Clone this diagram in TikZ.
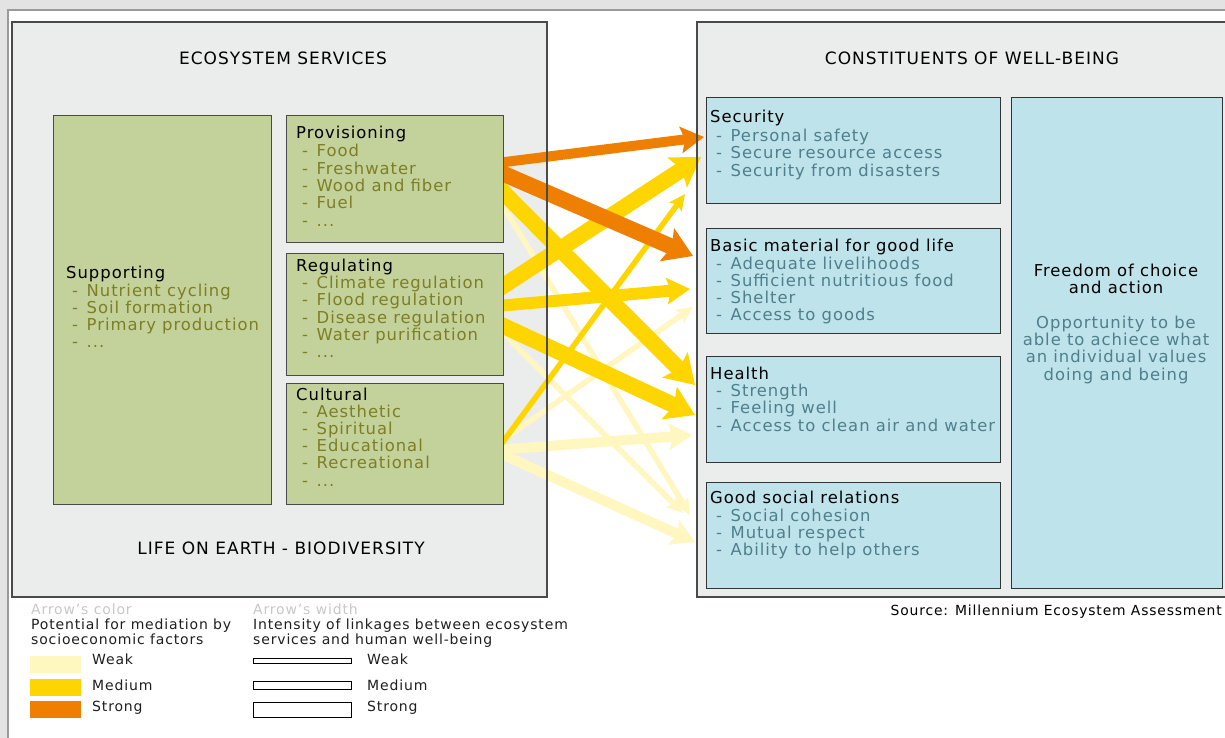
\documentclass[tikz,border=0pt]{standalone}
\usepackage{fontspec}
\setmainfont{DejaVu Sans}[LetterSpace=6]
\usetikzlibrary{arrows.meta}
\definecolor{framegray}{HTML}{E3E3E3}
\definecolor{frameline}{HTML}{9A9A9A}
\definecolor{boxbg}{HTML}{EBEDEC}
\definecolor{boxline}{HTML}{4A4A4A}
\definecolor{gfill}{HTML}{C3D19A}
\definecolor{gtext}{HTML}{7E7E24}
\definecolor{bfill}{HTML}{BFE3EA}
\definecolor{btext}{HTML}{4F7F8D}
\definecolor{weakc}{HTML}{FFF6C0}
\definecolor{medc}{HTML}{FFD500}
\definecolor{strongc}{HTML}{EF7F00}
\definecolor{leggray}{HTML}{C8C8C8}
\newcommand\mydots{...}
\newcommand\itemlines[5]{\foreach \t [count=\i] in {#5}{\node[#4] (#1\i) at (#2,{#3+17.25*(\i-1)}) {\hbox to 14.5pt{-\hfil}\t};}}
\begin{document}
\begin{tikzpicture}[x=1pt,y=-1pt,
  hdr/.style={font=\fontsize{16.4}{18}\selectfont, text=black, inner sep=0pt, anchor=base west},
  gitem/.style={hdr, text=gtext},
  bitem/.style={hdr, text=btext},
  ftxt/.style={font=\fontsize{16.4}{18}\selectfont, text=black, inner sep=0pt, anchor=base},
  ctitle/.style={font=\fontsize{17}{19}\selectfont, text=black, inner sep=0pt, anchor=base},
  legtxt/.style={font=\fontsize{14}{16}\selectfont, text=black!88, inner sep=0pt, anchor=base west},
  gbox/.style={draw=boxline, fill=gfill, line width=1.2pt, inner sep=0pt, anchor=north west},
  bbox/.style={draw=black!80, fill=bfill, line width=1.2pt, inner sep=0pt, anchor=north west},
  thinA/.style={line width=5.5pt, -{Stealth[length=16pt,width=15pt,inset=3pt]}},
  medA/.style={line width=10pt, -{Stealth[length=23pt,width=26pt,inset=4pt]}},
  thickA/.style={line width=16pt, -{Stealth[length=28pt,width=35pt,inset=5pt]}},
  swatch/.style={minimum width=51pt, minimum height=17pt, inner sep=0pt, anchor=north west},
  wrect/.style={draw=black, fill=white, line width=0.9pt, minimum width=98pt, inner sep=0pt, anchor=north west}
]
\useasboundingbox (0,0) rectangle (1225,738);
% frame
\fill[white] (0,0) rectangle (1225,738);
\fill[framegray] (0,0) rectangle (1225,9);
\fill[framegray] (0,0) rectangle (7,738);
\draw[frameline, line width=1.6pt] (1225,9.8) -- (8,9.8) -- (8,738);
% outer boxes (fill)
\fill[boxbg] (12,22) rectangle (547,597);
\fill[boxbg] (697,22) rectangle (1232,597);
% arrow end points
\coordinate (a1s) at (497,163); \coordinate (a1e) at (704,137);
\coordinate (a2s) at (497,171); \coordinate (a2e) at (693,256);
\coordinate (a3s) at (497,186); \coordinate (a3e) at (695,385);
\coordinate (a4s) at (497,196); \coordinate (a4e) at (690,515);
\coordinate (a5s) at (497,290); \coordinate (a5e) at (701,157);
\coordinate (a6s) at (497,306); \coordinate (a6e) at (690,289);
\coordinate (a7s) at (497,323); \coordinate (a7e) at (695,415);
\coordinate (a8s) at (497,327); \coordinate (a8e) at (683,513);
\coordinate (a9s) at (497,450); \coordinate (a9e) at (685,194);
\coordinate (a10s) at (497,444); \coordinate (a10e) at (693,307);
\coordinate (a11s) at (497,450); \coordinate (a11e) at (692,435);
\coordinate (a12s) at (497,452); \coordinate (a12e) at (695,542);
% weak arrows
\draw[thinA, weakc] (a4s) -- (a4e);
\draw[thinA, weakc] (a8s) -- (a8e);
\draw[medA, weakc] (a12s) -- (a12e);
\draw[medA, weakc] (a11s) -- (a11e);
\draw[thinA, weakc] (a10s) -- (a10e);
% medium arrows
\draw[thinA, medc] (a9s) -- (a9e);
\draw[thickA, medc] (a7s) -- (a7e);
\draw[medA, line width=12pt, medc] (a6s) -- (a6e);
\draw[thickA, medc] (a5s) -- (a5e);
\draw[thickA, medc] (a3s) -- (a3e);
% strong arrows
\draw[thickA, strongc] (a2s) -- (a2e);
\draw[medA, strongc] (a1s) -- (a1e);
% outer box borders
\draw[boxline, line width=1.2pt] (12,22) rectangle (547,597);
\draw[boxline, line width=1.2pt] (697,22) rectangle (1232,597);
% green boxes
\node[gbox, minimum width=218pt, minimum height=389pt] (sup) at (53,115) {};
\node[gbox, minimum width=217pt, minimum height=127pt] (prov) at (286,115) {};
\node[gbox, minimum width=217pt, minimum height=122pt] (reg) at (286,253) {};
\node[gbox, minimum width=217pt, minimum height=121pt] (cult) at (286,383) {};
% blue boxes
\node[bbox, minimum width=294pt, minimum height=106pt] (sec) at (706,97) {};
\node[bbox, minimum width=294pt, minimum height=105pt] (basic) at (706,228) {};
\node[bbox, minimum width=294pt, minimum height=106pt] (health) at (706,356) {};
\node[bbox, minimum width=294pt, minimum height=106pt] (good) at (706,482) {};
\node[bbox, minimum width=211pt, minimum height=491pt] (free) at (1011,97) {};
% titles
\node[ctitle] (t1) at (283,65) {ECOSYSTEM SERVICES};
\node[ctitle] (t2) at (972,65) {CONSTITUENTS OF WELL-BEING};
\node[ctitle] (t3) at (281,554) {LIFE ON EARTH - BIODIVERSITY};
% green box texts
\node[hdr] (hsup) at (66,278) {Supporting};
\itemlines{isup}{72}{296}{gitem}{Nutrient cycling,Soil formation,Primary production,\mydots}
\node[hdr] (hprov) at (296,139) {Provisioning};
\itemlines{iprov}{302}{157}{gitem}{Food,Freshwater,Wood and fiber,Fuel,\mydots}
\node[hdr] (hreg) at (296,271) {Regulating};
\itemlines{ireg}{302}{288.5}{gitem}{Climate regulation,Flood regulation,Disease regulation,Water purification,\mydots}
\node[hdr] (hcult) at (296,400) {Cultural};
\itemlines{icult}{302}{417}{gitem}{Aesthetic,Spiritual,Educational,Recreational,\mydots}
% blue box texts
\node[hdr] (hsec) at (710,123) {Security};
\itemlines{isec}{716}{141.5}{bitem}{Personal safety,Secure resource access,Security from disasters}
\node[hdr] (hbasic) at (710,251) {Basic material for good life};
\itemlines{ibasic}{716}{269}{bitem}{Adequate livelihoods,Sufficient nutritious food,Shelter,Access to goods}
\node[hdr] (hhealth) at (710,379) {Health};
\itemlines{ihealth}{716}{396.5}{bitem}{Strength,Feeling well,Access to clean air and water}
\node[hdr] (hgood) at (710,503) {Good social relations};
\itemlines{igood}{716}{521}{bitem}{Social cohesion,Mutual respect,Ability to help others}
% freedom
\node[ftxt] (f1) at (1116,276) {Freedom of choice};
\node[ftxt] (f2) at (1116,293.3) {and action};
\node[ftxt, text=btext] (f3) at (1116,328) {Opportunity to be};
\node[ftxt, text=btext] (f4) at (1116,345.3) {able to achiece what};
\node[ftxt, text=btext] (f5) at (1116,362.6) {an individual values};
\node[ftxt, text=btext] (f6) at (1116,380) {doing and being};
% source
\node[font=\fontsize{13.9}{16}\selectfont, inner sep=0pt, anchor=base east] (src) at (1222,615) {Source: Millennium Ecosystem Assessment};
% legend: colour
\node[legtxt, text=leggray] (lc0) at (31,614) {Arrow’s color};
\node[legtxt] (lc1) at (31,629) {Potential for mediation by};
\node[legtxt] (lc2) at (31,644) {socioeconomic factors};
\node[swatch, fill=weakc] (sw1) at (30,656) {};
\node[swatch, fill=medc] (sw2) at (30,679) {};
\node[swatch, fill=strongc] (sw3) at (30,701) {};
\node[legtxt] (lcw) at (92,664) {Weak};
\node[legtxt] (lcm) at (92,690) {Medium};
\node[legtxt] (lcs) at (92,711) {Strong};
% legend: width
\node[legtxt, text=leggray] (lw0) at (253,614) {Arrow’s width};
\node[legtxt] (lw1) at (253,629) {Intensity of linkages between ecosystem};
\node[legtxt] (lw2) at (253,644) {services and human well-being};
\node[wrect, minimum height=4.5pt] (wr1) at (253,658) {};
\node[wrect, minimum height=8pt] (wr2) at (253,681) {};
\node[wrect, minimum height=14.5pt] (wr3) at (253,702) {};
\node[legtxt] (lww) at (367,664) {Weak};
\node[legtxt] (lwm) at (367,690) {Medium};
\node[legtxt] (lws) at (367,711) {Strong};
\end{tikzpicture}
\end{document}
